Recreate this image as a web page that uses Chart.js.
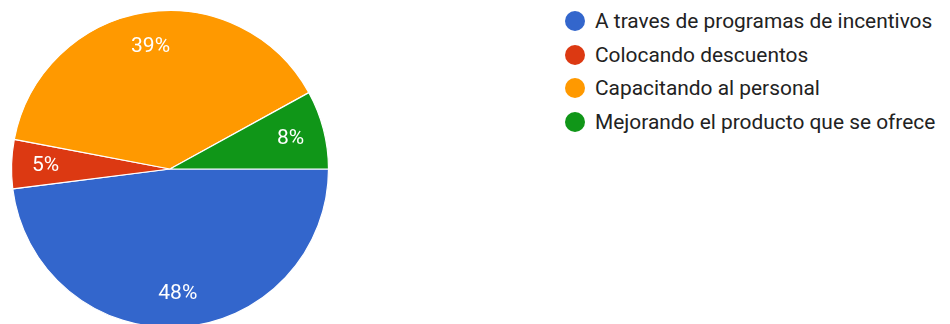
<!DOCTYPE html>
<html>
<head>
<meta charset="utf-8">
<script src="https://cdn.jsdelivr.net/npm/chart.js@4/dist/chart.umd.min.js"></script>
<style>
  html, body { margin: 0; padding: 0; background: #fff; width: 950px; height: 324px; overflow: hidden; }
  #pieWrap { position: absolute; left: 0; top: 0; width: 340px; height: 338px; }
  #legend { position: absolute; left: 565px; top: 4px; margin: 0; padding: 0; list-style: none;
            font-family: Roboto, Arial, sans-serif; font-size: 20.9px; color: #222; }
  #legend li { display: flex; align-items: center; height: 33.8px; white-space: nowrap; }
  #legend .dot { width: 20px; height: 20px; border-radius: 50%; margin-right: 10px; flex: none; }
</style>
</head>
<body>
<div id="pieWrap"><canvas id="pie"></canvas></div>
<ul id="legend"></ul>
<script>
const categories = [
  "A traves de programas de incentivos",
  "Colocando descuentos",
  "Capacitando al personal",
  "Mejorando el producto que se ofrece"
];
const percentages = [48, 5, 39, 8];
const sliceColors = ["#3366CC", "#DC3912", "#FF9900", "#109618"];

// Percent labels placed inside each slice, toward the rim
const sliceLabels = {
  id: "sliceLabels",
  afterDatasetsDraw(chart) {
    const ctx = chart.ctx;
    const meta = chart.getDatasetMeta(0);
    const values = chart.data.datasets[0].data;
    const total = values.reduce((a, b) => a + b, 0);
    ctx.save();
    ctx.fillStyle = "#fff";
    ctx.font = "21px Roboto, Arial, sans-serif";
    ctx.textAlign = "center";
    ctx.textBaseline = "middle";
    meta.data.forEach((arc, i) => {
      const p = arc.getProps(["x", "y", "startAngle", "endAngle", "outerRadius"], true);
      const mid = (p.startAngle + p.endAngle) / 2;
      const r = p.outerRadius * 0.785;
      const pct = Math.round(values[i] / total * 100) + "%";
      ctx.fillText(pct, p.x + Math.cos(mid) * r, p.y + Math.sin(mid) * r + 1);
    });
    ctx.restore();
  }
};

new Chart(document.getElementById("pie"), {
  type: "pie",
  data: {
    labels: categories,
    datasets: [{
      data: percentages,
      backgroundColor: sliceColors,
      borderColor: "#ffffff",
      borderWidth: 1.2
    }]
  },
  options: {
    responsive: true,
    maintainAspectRatio: false,
    animation: false,
    rotation: 90,
    radius: 158.5,
    layout: { padding: 0 },
    plugins: {
      legend: { display: false },
      tooltip: { enabled: false }
    }
  },
  plugins: [sliceLabels]
});

const legend = document.getElementById("legend");
categories.forEach((name, i) => {
  const li = document.createElement("li");
  const dot = document.createElement("span");
  dot.className = "dot";
  dot.style.background = sliceColors[i];
  li.appendChild(dot);
  li.appendChild(document.createTextNode(name));
  legend.appendChild(li);
});
</script>
</body>
</html>
